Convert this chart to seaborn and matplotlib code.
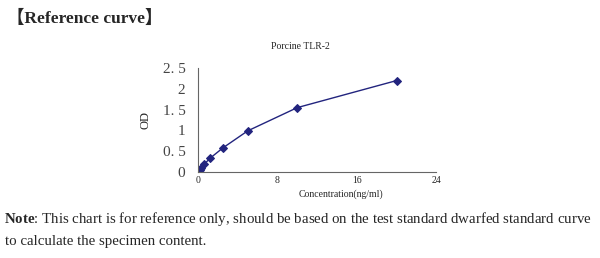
import matplotlib
matplotlib.use("Agg")
import matplotlib.pyplot as plt
import seaborn as sns
import pandas as pd

conc = [0, 0.156, 0.312, 0.625, 1.25, 2.5, 5, 10, 20]
od = [0.02, 0.06, 0.11, 0.19, 0.34, 0.58, 0.99, 1.55, 2.20]
x_ticks = [0, 8, 16, 24]
y_ticks = [0, 0.5, 1, 1.5, 2, 2.5]
y_labels = ["0", "0. 5", "1", "1. 5", "2", "2. 5"]

sns.set_style("white")
plt.rcParams['font.family'] = ['Liberation Serif', 'DejaVu Serif']
plt.rcParams['mathtext.fontset'] = 'custom'
plt.rcParams['mathtext.rm'] = 'Liberation Serif'
plt.rcParams['mathtext.bf'] = 'Liberation Serif:bold'

df = pd.DataFrame({"Concentration": conc, "OD": od})

fig = plt.figure(figsize=(6.0, 2.58), dpi=100)
ax = fig.add_axes([0.33, 0.333, 0.397, 0.403])
sns.lineplot(data=df, x="Concentration", y="OD", ax=ax, color="#22247E",
             marker="D", markersize=4.5, markeredgecolor="#22247E", linewidth=1.0)

ax.set_xlim(0, 24)
ax.set_ylim(0, 2.5)
ax.set_xticks(x_ticks)
ax.set_xticklabels([str(t) for t in x_ticks], fontsize=7)
ax.set_yticks(y_ticks)
ax.set_yticklabels(y_labels, fontsize=11, color="#444444")
ax.tick_params(axis="x", direction="in", length=3, width=0.8, color="#555555", pad=3)
ax.tick_params(axis="y", direction="in", length=3, width=0.8, color="#555555", pad=9)
for side in ["top", "right"]:
    ax.spines[side].set_visible(False)
for side in ["left", "bottom"]:
    ax.spines[side].set_color("#666666")
    ax.spines[side].set_linewidth(0.8)

ax.set_xlabel("Concentration(ng/ml)", fontsize=7, labelpad=1)
ax.xaxis.set_label_coords(0.6, -0.17)
ax.set_ylabel("OD", fontsize=9, labelpad=8)
ax.set_title("Porcine TLR-2", fontsize=7, pad=14)
ax.title.set_position((0.43, 1))

fig.text(0.012, 0.93, "\u3010Reference curve\u3011", fontsize=12.5, fontweight="bold",
         family=['Liberation Serif', 'Noto Sans CJK SC'], va="center")
fig.text(0.006, 0.153,
         r"$\mathbf{Note}$: This chart is for reference only, should be based on the test standard dwarfed standard curve",
         fontsize=10.7, va="center")
fig.text(0.008, 0.064, "to calculate the specimen content.", fontsize=10.7, va="center")

fig.savefig("out.png", dpi=100, facecolor="white")
